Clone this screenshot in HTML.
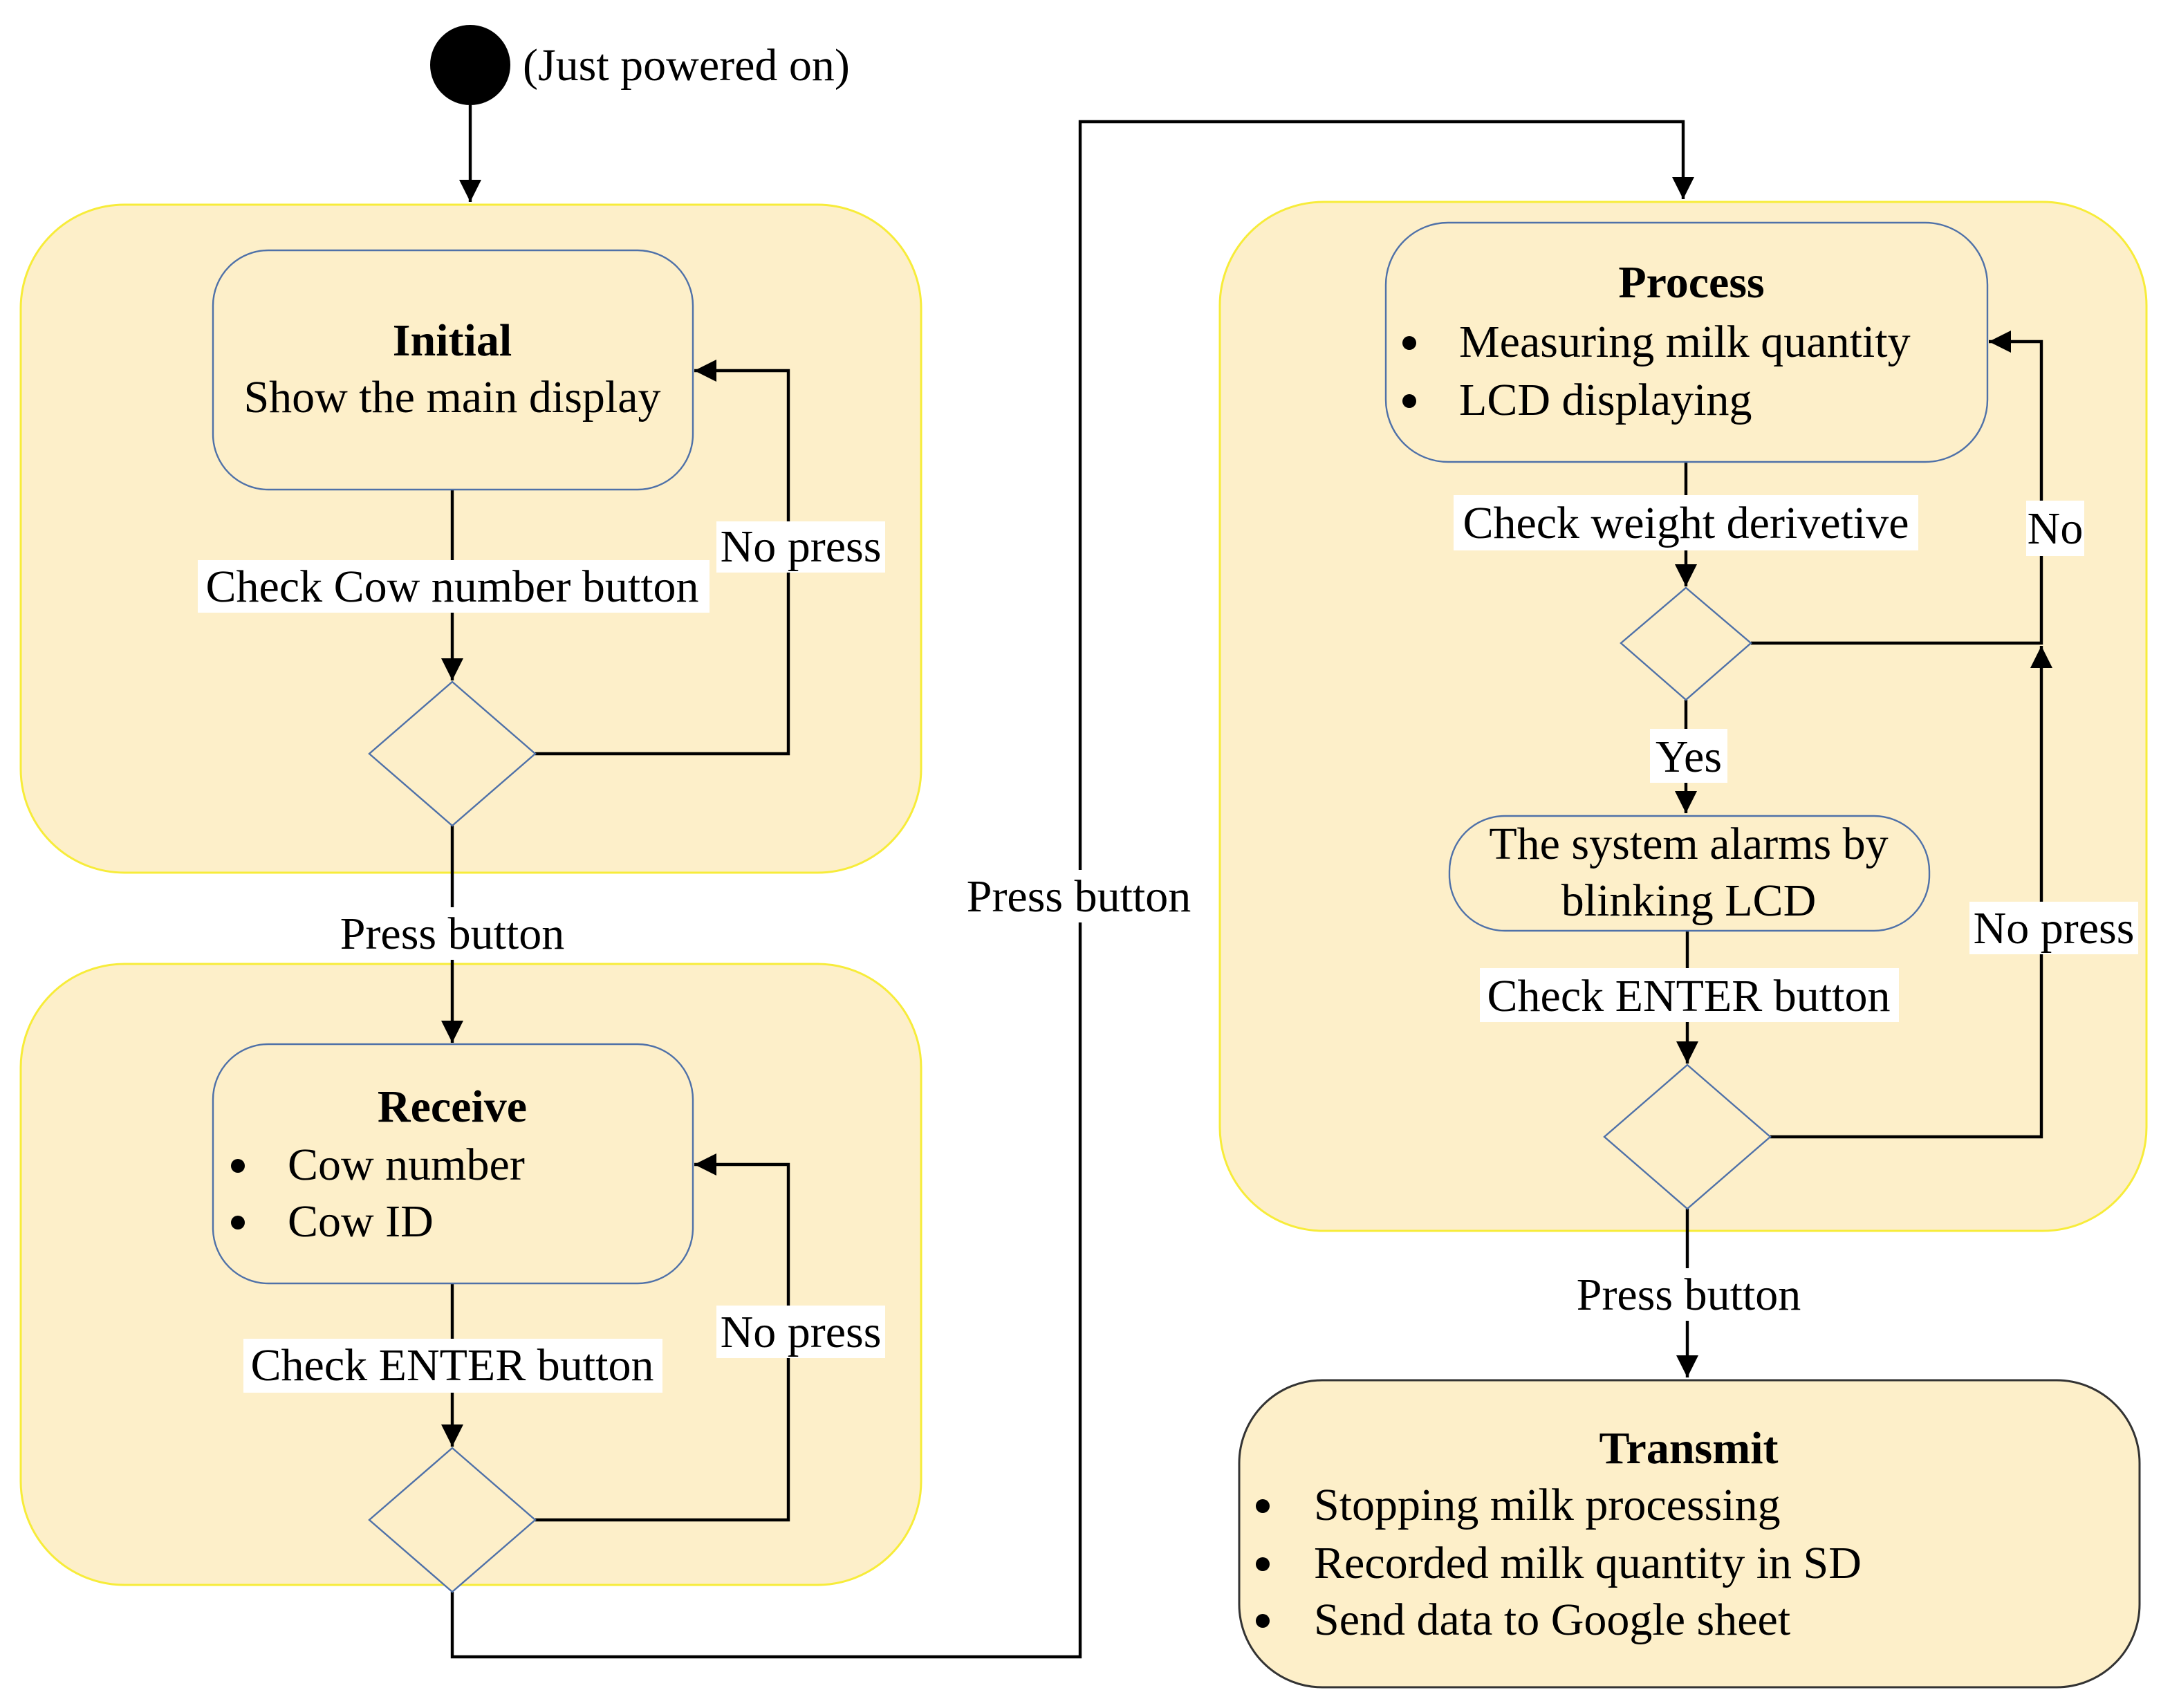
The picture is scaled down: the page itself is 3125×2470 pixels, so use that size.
<!DOCTYPE html>
<html><head><meta charset="utf-8"><style>html,body{margin:0;padding:0;background:#fff}svg{display:block}</style></head>
<body>
<svg width="3125" height="2470" viewBox="0 0 1562.5 1235" xmlns="http://www.w3.org/2000/svg" font-family="'Liberation Serif', serif" font-size="33">
<defs>
<marker id="a" viewBox="0 0 10 10" refX="10" refY="5" markerWidth="16" markerHeight="16" markerUnits="userSpaceOnUse" orient="auto"><path d="M0,0 L10,5 L0,10 z" fill="#000"/></marker>
</defs>
<rect width="1562.5" height="1235" fill="#fff"/>
<rect x="15" y="148" width="651" height="483" rx="75" fill="#fdefc9" stroke="#f7ec3a" stroke-width="1.5"/>
<rect x="15" y="697" width="651" height="449" rx="75" fill="#fdefc9" stroke="#f7ec3a" stroke-width="1.5"/>
<rect x="882" y="146" width="670" height="744" rx="75" fill="#fdefc9" stroke="#f7ec3a" stroke-width="1.5"/>
<circle cx="340" cy="47" r="29" fill="#000"/>
<text x="378" y="58">(Just powered on)</text>
<g stroke="#000" stroke-width="2.2" fill="none" marker-end="url(#a)">
<path d="M340,76 V146"/>
<path d="M327,354 V492"/>
<path d="M387,545 H570 V268 H502"/>
<path d="M327,597 V754"/>
<path d="M327,928 V1046"/>
<path d="M387,1099 H570 V842 H502"/>
<path d="M327,1151 V1198 H781 V88 H1217 V144"/>
<path d="M1219,334 V424"/>
<path d="M1266,465 H1476 V247 H1438"/>
<path d="M1219,506 V588"/>
<path d="M1220,673 V769"/>
<path d="M1280,822 H1476 V467"/>
<path d="M1220,874 V996"/>
</g>
<g fill="#fdefc9" stroke="#4f71a8" stroke-width="1.2">
<rect x="154" y="181" width="347" height="173" rx="40"/>
<rect x="154" y="755" width="347" height="173" rx="40"/>
<rect x="1002" y="161" width="435" height="173" rx="45"/>
<rect x="1048" y="590" width="347" height="83" rx="40"/>
<path d="M327,493 L387,545 L327,597 L267,545 Z"/>
<path d="M327,1047 L387,1099 L327,1151 L267,1099 Z"/>
<path d="M1219,425 L1266,465 L1219,506 L1172,465 Z"/>
<path d="M1220,770 L1280,822 L1220,874 L1160,822 Z"/>
</g>
<rect x="896" y="998" width="651" height="222" rx="60" fill="#fdefc9" stroke="#333" stroke-width="1.5"/>
<g fill="#fff">
<rect x="143" y="405" width="370" height="38"/>
<rect x="518" y="377" width="122" height="37"/>
<rect x="176" y="968" width="303" height="39"/>
<rect x="518" y="944" width="122" height="38"/>
<rect x="697" y="629" width="166" height="38"/>
<rect x="243" y="656" width="168" height="38"/>
<rect x="1137" y="917" width="168" height="38"/>
<rect x="1051" y="358" width="336" height="40"/>
<rect x="1465" y="362" width="42" height="40"/>
<rect x="1193" y="527" width="56" height="39"/>
<rect x="1070" y="700" width="303" height="39"/>
<rect x="1424" y="652" width="122" height="38"/>
</g>
<g text-anchor="middle">
<text x="327" y="257" font-weight="bold">Initial</text>
<text x="327" y="298">Show the main display</text>
<text x="327" y="435">Check Cow number button</text>
<text x="579" y="406">No press</text>
<text x="327" y="686">Press button</text>
<text x="327" y="811" font-weight="bold">Receive</text>
<text x="327" y="998">Check ENTER button</text>
<text x="579" y="974">No press</text>
<text x="780" y="659">Press button</text>
<text x="1223" y="215" font-weight="bold">Process</text>
<text x="1219" y="389">Check weight derivetive</text>
<text x="1486" y="393">No</text>
<text x="1221" y="558">Yes</text>
<text x="1221" y="621">The system alarms by</text>
<text x="1221" y="662">blinking LCD</text>
<text x="1221" y="731">Check ENTER button</text>
<text x="1485" y="682">No press</text>
<text x="1221" y="947">Press button</text>
<text x="1221" y="1058" font-weight="bold">Transmit</text>
</g>
<g fill="#000">
<circle cx="172" cy="843" r="5"/><circle cx="172" cy="884" r="5"/>
<circle cx="1019" cy="248" r="5"/><circle cx="1019" cy="290" r="5"/>
<circle cx="913" cy="1089" r="5"/><circle cx="913" cy="1131" r="5"/><circle cx="913" cy="1172" r="5"/>
</g>
<text x="208" y="853">Cow number</text>
<text x="208" y="894">Cow ID</text>
<text x="1055" y="258">Measuring milk quantity</text>
<text x="1055" y="300">LCD displaying</text>
<text x="950" y="1099">Stopping milk processing</text>
<text x="950" y="1141">Recorded milk quantity in SD</text>
<text x="950" y="1182">Send data to Google sheet</text>
</svg>
</body></html>
